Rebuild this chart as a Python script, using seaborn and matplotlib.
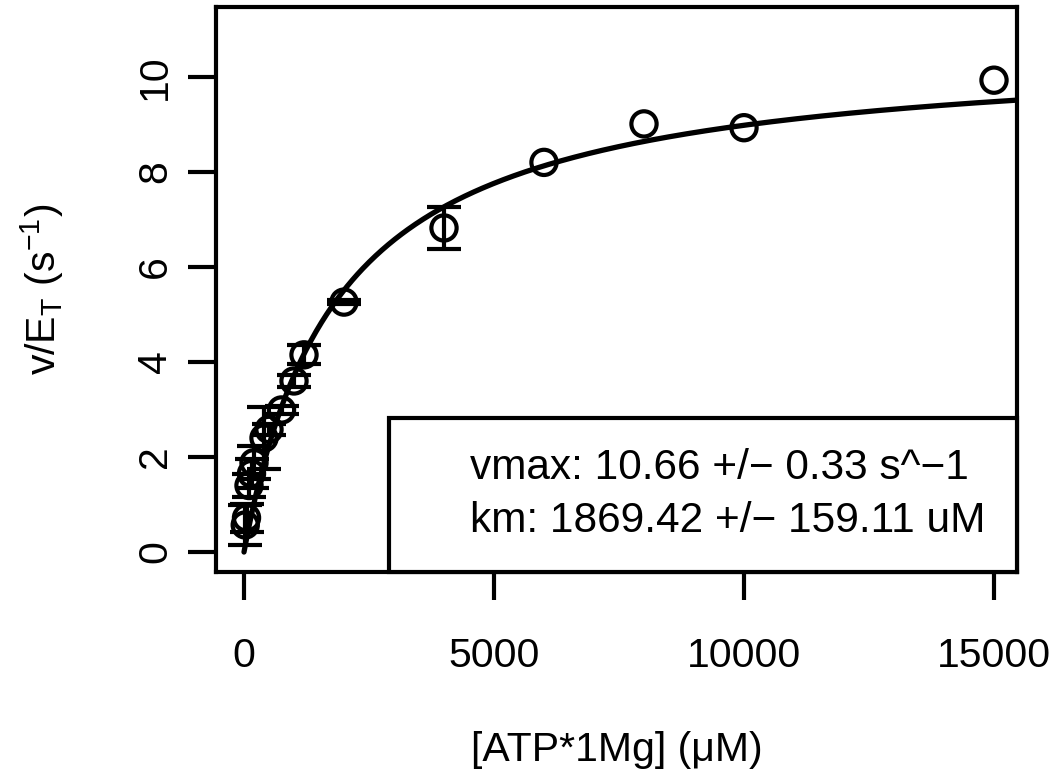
import numpy as np
import pandas as pd
import matplotlib
matplotlib.use("Agg")
import matplotlib.pyplot as plt
import seaborn as sns

# ---- data ----
conc = [25, 50, 100, 150, 200, 400, 500, 750, 1000, 1200, 2000, 4000, 6000, 8000, 10000, 15000]
rate = [0.57, 0.72, 1.40, 1.65, 1.88, 2.40, 2.58, 2.99, 3.60, 4.15, 5.26, 6.82, 8.20, 9.01, 8.93, 9.93]
err = [0.42, 0.30, 0.25, 0.30, 0.35, 0.65, 0.12, 0.08, 0.12, 0.20, 0.04, 0.44, 0.0, 0.0, 0.0, 0.0]
vmax, vmax_se = 10.66, 0.33
km, km_se = 1869.42, 159.11
xticks = [0, 5000, 10000, 15000]
yticks = [0, 2, 4, 6, 8, 10]

sns.set_theme(style="white")
plt.rcParams['font.family'] = ['Liberation Sans', 'DejaVu Sans']
plt.rcParams['mathtext.fontset'] = 'custom'
plt.rcParams['mathtext.rm'] = 'Liberation Sans'
plt.rcParams['mathtext.it'] = 'Liberation Sans'
plt.rcParams['text.color'] = 'black'
plt.rcParams['axes.labelcolor'] = 'black'

fig = plt.figure(figsize=(10.51, 7.8), dpi=100)
ax = fig.add_axes([216/1051, 1-572/780, (1017-216)/1051, (572-7)/780])

df = pd.DataFrame({"conc": conc, "rate": rate, "err": err})

# fitted curve
xs = np.linspace(0, 15460, 600)
curve = pd.DataFrame({"x": xs, "y": vmax * xs / (km + xs)})
sns.lineplot(data=curve, x="x", y="y", ax=ax, color="black", lw=3.8, zorder=3)

# error bars
eb = df[df.err > 0]
ax.errorbar(eb.conc, eb.rate, yerr=eb.err, fmt='none', ecolor='black',
            elinewidth=3.0, capsize=12, capthick=3.0, zorder=2)

sns.scatterplot(data=df, x="conc", y="rate", ax=ax, marker='o', s=330,
                facecolor='none', edgecolor='black', linewidth=3.0, zorder=4)

ax.set_xlim(-560, 15460)
ax.set_ylim(-0.42, 11.47)
ax.set_xticks(xticks)
ax.set_xticklabels([str(t) for t in xticks])
ax.set_yticks(yticks)
ax.set_yticklabels([str(t) for t in yticks], rotation=90, va='center')
ax.tick_params(axis='x', direction='out', length=20, width=3.0, pad=27, labelsize=29.5, colors='black')
ax.tick_params(axis='y', direction='out', length=20, width=3.0, pad=10, labelsize=29.5, colors='black')
ax.tick_params(bottom=True, left=True)
for s in ax.spines.values():
    s.set_linewidth(3.0)
    s.set_color('black')

ax.set_xlabel("[ATP*1Mg] (\u03bcM)", fontsize=29.5, labelpad=0, va='center', color='black')
ax.set_ylabel(r"v/E$_\mathregular{T}$ (s$^{\mathregular{-1}}$)", fontsize=29.5, labelpad=0,
              va='center', color='black')
ax.xaxis.set_label_coords(0.5, -(750-572)/565)
ax.yaxis.set_label_coords(-(216-42)/801, 0.5)

# stats box
ax.add_patch(plt.Rectangle((2900, -0.42), 15460-2900, (552-418)/47.5 + 0.42,
                           transform=ax.transData, facecolor='white', edgecolor='black',
                           linewidth=3.0, zorder=5, clip_on=False))
ax.text(4520, (552-468)/47.5, f"vmax: {vmax:.2f} +/\u2212 {vmax_se:.2f} s^\u22121",
        fontsize=30.5, va='center', ha='left', zorder=6, color='black')
ax.text(4520, (552-521)/47.5, f"km: {km:.2f} +/\u2212 {km_se:.2f} uM",
        fontsize=30.5, va='center', ha='left', zorder=6, color='black')

fig.savefig("out.png", dpi=100)
